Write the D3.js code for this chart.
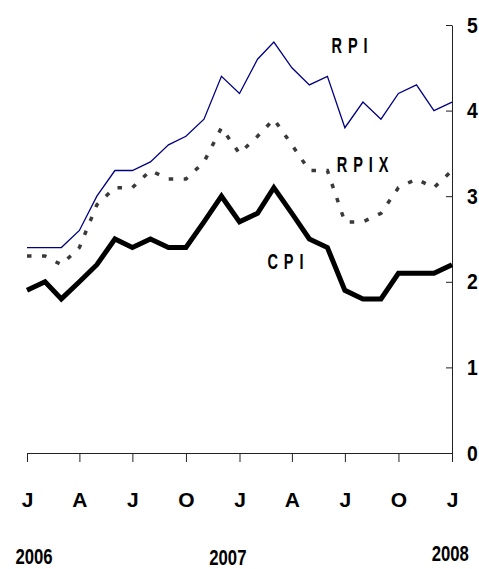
<!DOCTYPE html>
<html>
<head>
<meta charset="utf-8">
<script src="https://cdn.jsdelivr.net/npm/d3@7"></script>
<style>
  body { margin: 0; background: #fff; }
  text { font-family: "Liberation Sans", Arial, sans-serif; font-weight: bold; fill: #000; }
</style>
</head>
<body>
<svg id="chart"></svg>
<script>
// monthly inflation, Jan 2006 .. Jan 2008 (percent)
const months = d3.timeMonths(new Date(2006, 0, 1), new Date(2008, 0, 2));
const rpi  = [2.4, 2.4, 2.4, 2.6, 3.0, 3.3, 3.3, 3.4, 3.6, 3.7, 3.9, 4.4, 4.2, 4.6, 4.8, 4.5, 4.3, 4.4, 3.8, 4.1, 3.9, 4.2, 4.3, 4.0, 4.1];
const rpix = [2.3, 2.3, 2.2, 2.4, 2.9, 3.1, 3.1, 3.3, 3.2, 3.2, 3.4, 3.8, 3.5, 3.7, 3.9, 3.6, 3.3, 3.3, 2.7, 2.7, 2.8, 3.1, 3.2, 3.1, 3.3];
const cpi  = [1.9, 2.0, 1.8, 2.0, 2.2, 2.5, 2.4, 2.5, 2.4, 2.4, 2.7, 3.0, 2.7, 2.8, 3.1, 2.8, 2.5, 2.4, 1.9, 1.8, 1.8, 2.1, 2.1, 2.1, 2.2];
const yTicks = [0, 1, 2, 3, 4, 5];
const years = ["2006", "2007", "2008"];

const W = 479, H = 569;
const margin = { top: 25, right: 27, bottom: 116, left: 27 };

const svg = d3.select("#chart").attr("width", W).attr("height", H);

const x = d3.scaleTime()
  .domain([months[0], months[months.length - 1]])
  .range([margin.left, W - margin.right]);
const y = d3.scaleLinear()
  .domain([0, 5])
  .range([H - margin.bottom, margin.top]);

// month offset -> date, for placing labels
const at = m => d3.timeDay.offset(months[0], m * 30.44);

// axes
const xAxis = svg.append("g")
  .attr("transform", `translate(0,${y(0)})`)
  .call(d3.axisBottom(x)
    .tickValues(months.filter((d, i) => i % 3 === 0))
    .tickSize(9).tickSizeOuter(0).tickPadding(30)
    .tickFormat(d => d3.timeFormat("%B")(d)[0]));
xAxis.select(".domain").attr("stroke", "#222");
xAxis.selectAll(".tick line").attr("stroke", "#222");
xAxis.selectAll(".tick text").style("font-size", "21px").attr("fill", "#000");

const yAxis = svg.append("g")
  .attr("transform", `translate(${x.range()[1]},0)`)
  .call(d3.axisRight(y).tickValues(yTicks).tickFormat(d3.format("d"))
    .tickSize(-6).tickSizeOuter(0));
yAxis.select(".domain").attr("stroke", "#222");
yAxis.selectAll(".tick line").attr("stroke", "#222");
yAxis.selectAll(".tick text")
  .style("font-size", "22px").attr("fill", "#000")
  .attr("x", 0)
  .attr("transform", "translate(15,0) scale(0.88,1)");

// lines
const line = d3.line()
  .x((d, i) => x(months[i]))
  .y(d => y(d));

svg.append("path").datum(rpi)
  .attr("d", line).attr("fill", "none")
  .attr("stroke", "#000080").attr("stroke-width", 1.3);

svg.append("path").datum(rpix)
  .attr("d", line).attr("fill", "none")
  .attr("stroke", "#3a3a3a").attr("stroke-width", 3.5)
  .attr("stroke-dasharray", "4.5,10.5");

svg.append("path").datum(cpi)
  .attr("d", line).attr("fill", "none")
  .attr("stroke", "#000").attr("stroke-width", 5)
  .attr("stroke-linejoin", "miter");

// series labels (condensed, letter-spaced)
const seriesLabels = [
  { name: "RPI", m: 17.2, v: 4.67 },
  { name: "RPIX", m: 17.5, v: 3.28 },
  { name: "CPI", m: 13.6, v: 2.15 }
];
svg.append("g").selectAll("text")
  .data(seriesLabels)
  .join("text")
    .attr("transform", d => `translate(${x(at(d.m))},${y(d.v)}) scale(0.66,1)`)
    .style("font-size", "22px")
    .style("letter-spacing", "9px")
    .text(d => d.name);

// year labels
const yearPos = [0.4, 11.35, 23.9];
const yearBase = [564, 564.5, 561];
svg.append("g").selectAll("text")
  .data(years)
  .join("text")
    .attr("transform", (d, i) => `translate(${x(at(yearPos[i]))},${yearBase[i]}) scale(0.76,1)`)
    .attr("text-anchor", "middle")
    .style("font-size", "22px")
    .text(d => d);
</script>
</body>
</html>
